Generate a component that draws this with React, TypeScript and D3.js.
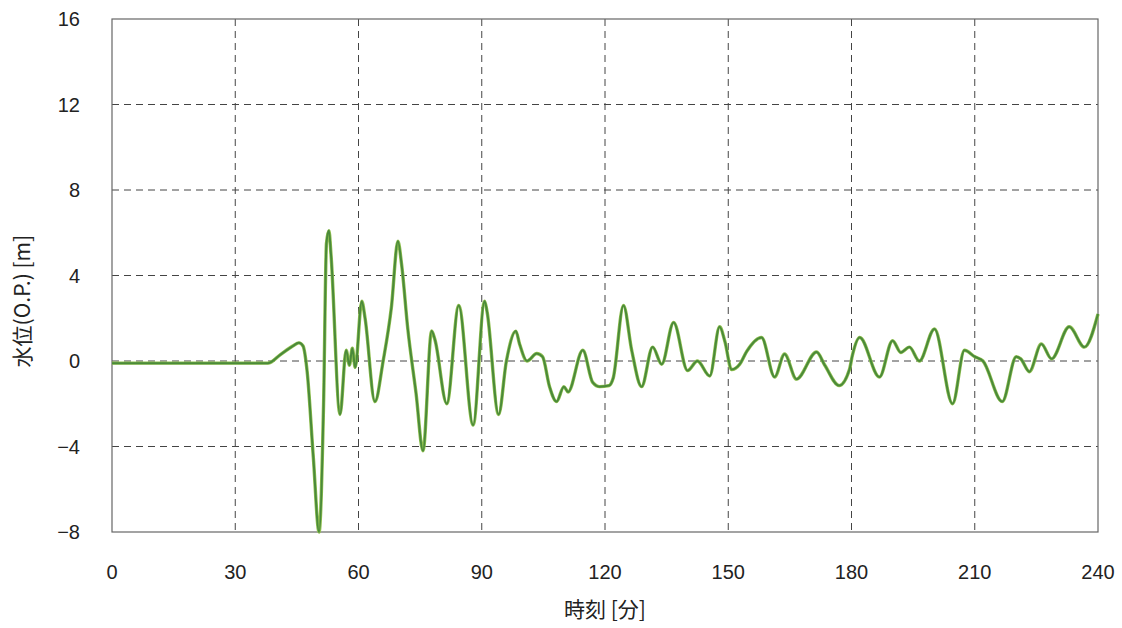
import React from 'react';
import * as d3 from 'd3';

// time [min] and water level O.P. [m]
const times = [
  0, 38, 41, 44, 45.5, 46.5, 47.5, 49, 50.4, 51.5, 52.2, 52.8, 53.3, 55.5, 57, 57.8, 58.5, 59.2,
  60.8, 61.6, 64, 66, 68, 69.6, 70.5, 72, 74, 75.7, 77.8, 78.6, 81.5, 84.4, 87.9, 90.7, 91.3,
  94.1, 96, 98.3, 99.2, 101, 103.4, 104.8, 106.5, 108.2, 110, 111, 114.6, 117, 118.7, 121, 122,
  124.5, 126.5, 128.9, 131.6, 133.8, 136.7, 140.1, 142.5, 145.5, 147.9, 149.2, 150.8, 152.8,
  154.5, 158.1, 161.3, 163.7, 166.6, 171.5, 173.5, 177, 179.5, 180.2, 182, 186.8, 190, 192,
  194.1, 196.5, 200.2, 204.6, 207.5, 210, 212, 216.7, 220.1, 221.2, 223.3, 226.2, 228.7, 233,
  236.7, 240,
];
const levels = [
  -0.1, -0.1, 0.3, 0.7, 0.85, 0.7, -0.5, -4.5, -8.0, -2, 5.5, 6.1, 5.0, -2.5, 0.5, -0.2, 0.6, -0.3,
  2.8, 2.0, -1.9, 0.0, 2.5, 5.6, 4.5, 1.5, -1.5, -4.2, 1.4, 1.0, -2.0, 2.6, -3.0, 2.8, 2.3,
  -2.5, 0.0, 1.4, 0.8, 0.0, 0.35, 0.2, -1.2, -1.9, -1.2, -1.45, 0.5, -1.0, -1.2, -1.15, -0.8,
  2.6, 0.5, -1.2, 0.65, -0.15, 1.8, -0.45, 0.0, -0.7, 1.6, 0.9, -0.4, -0.15,
  0.45, 1.1, -0.75, 0.33, -0.85, 0.42, -0.2, -1.15, -0.4, 0.25, 1.1, -0.75, 0.95, 0.4,
  0.65, 0.0, 1.5, -2.0, 0.5, 0.2, 0.0, -1.9, 0.2, 0.1, -0.5, 0.8, 0.1, 1.6,
  0.65, 2.2,
];
const xTicks = [0, 30, 60, 90, 120, 150, 180, 210, 240];
const yTicks = [-8, -4, 0, 4, 8, 12, 16];

const W = 1122;
const H = 628;
const margin = { top: 19, right: 24, bottom: 96, left: 112 };

export default function App() {
  const x = d3.scaleLinear().domain([0, 240]).range([margin.left, W - margin.right]);
  const y = d3.scaleLinear().domain([-8, 16]).range([H - margin.bottom, margin.top]);

  const pts: [number, number][] = times.map((t, i) => [t, levels[i]]);
  const line = d3
    .line<[number, number]>()
    .x((d) => x(d[0]))
    .y((d) => y(d[1]))
    .curve(d3.curveMonotoneX);
  const path = line(pts) || '';

  const num = '"Liberation Sans", Arial, sans-serif';
  const jp = '"Noto Sans CJK JP", sans-serif';

  return (
    <svg
      width={W}
      height={H}
      style={{ position: 'absolute', left: 0, top: 0, background: '#fff' }}
    >
      {/* grid */}
      {xTicks.slice(1, -1).map((t) => (
        <line key={'gx' + t} x1={x(t)} x2={x(t)} y1={y(16)} y2={y(-8)}
          stroke="#444" strokeWidth={1} strokeDasharray="7,5" />
      ))}
      {yTicks.slice(1, -1).map((v) => (
        <line key={'gy' + v} x1={x(0)} x2={x(240)} y1={y(v)} y2={y(v)}
          stroke="#444" strokeWidth={1} strokeDasharray="7,5" />
      ))}
      {/* frame */}
      <rect x={x(0)} y={y(16)} width={x(240) - x(0)} height={y(-8) - y(16)}
        fill="none" stroke="#666" strokeWidth={1.2} />

      {/* series */}
      <path d={path} fill="none" stroke="#8fbf4f" strokeWidth={3.4} strokeLinejoin="round" />
      <path d={path} fill="none" stroke="#4a8a3a" strokeWidth={2} strokeLinejoin="round" />

      {/* tick labels */}
      {yTicks.map((v) => (
        <text key={'ty' + v} x={80} y={y(v)} dy="0.35em" textAnchor="end"
          fontFamily={num} fontSize={20} fill="#222">
          {v < 0 ? '\u2212' + Math.abs(v) : v}
        </text>
      ))}
      {xTicks.map((t) => (
        <text key={'tx' + t} x={x(t)} y={579} textAnchor="middle"
          fontFamily={num} fontSize={20} fill="#222">
          {t}
        </text>
      ))}

      {/* axis titles */}
      <text x={x(120)} y={617} textAnchor="middle" fontFamily={jp} fontSize={21} fill="#222">
        時刻 [分]
      </text>
      <text transform={`translate(30, ${y(2.8)}) rotate(-90)`} textAnchor="middle"
        fontFamily={jp} fontSize={21} fill="#222">
        水位(O.P.) [m]
      </text>
    </svg>
  );
}
